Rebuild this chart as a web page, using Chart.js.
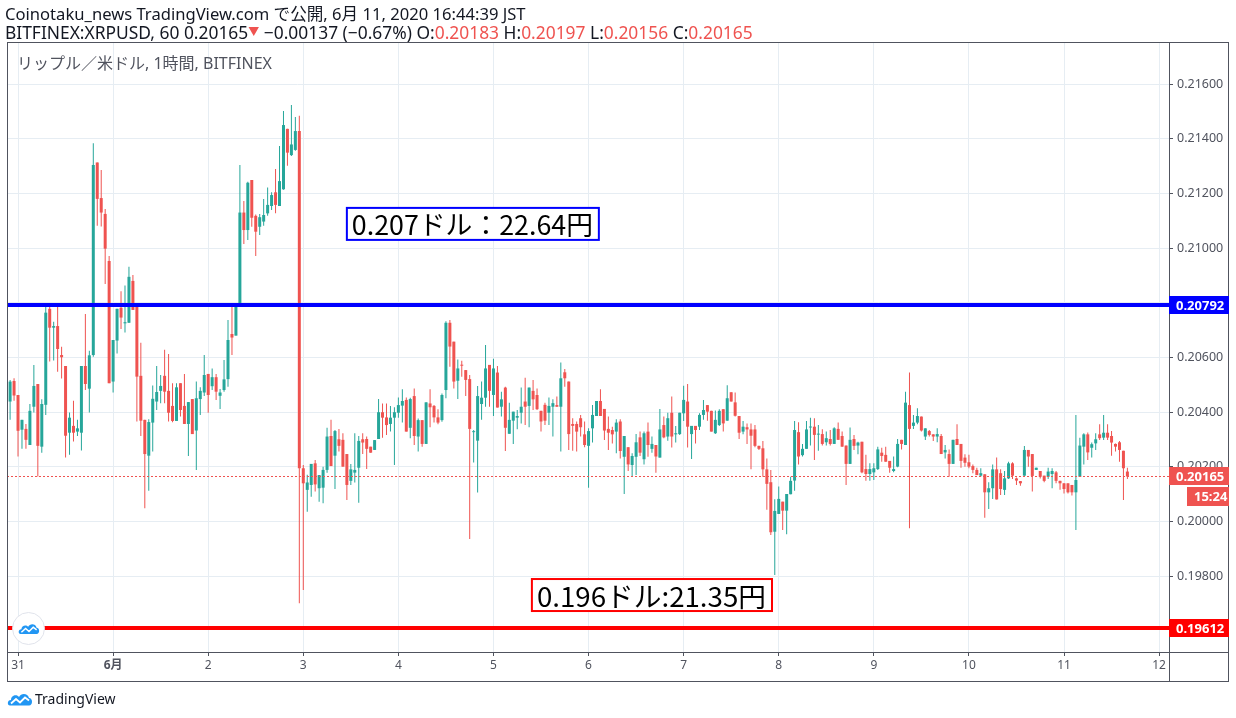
<!DOCTYPE html>
<html>
<head>
<meta charset="utf-8">
<script src="https://cdn.jsdelivr.net/npm/chart.js@4.4.1/dist/chart.umd.min.js"></script>
<style>
  body { margin: 0; background: #fff; font-family: "Noto Sans", "Noto Sans CJK JP", sans-serif; }
  #wrap { position: relative; width: 1236px; height: 718px; overflow: hidden; }
  #c { position: absolute; left: 0; top: 0; }
  .hdr { position: absolute; left: 5px; line-height: 18px; color: #131722; white-space: nowrap; }
  .r { color: #ef5350; }
  .tri { color: #ef5350; font-size: 11px; vertical-align: 3px; }
  #title { position: absolute; left: 17px; top: 53px; font-size: 16px; line-height: 20px; color: #50535e; white-space: nowrap; }
  #badge { position: absolute; left: 12px; top: 612px; width: 31px; height: 31px; border-radius: 50%; background: #fff; border: 1px solid #e0e3eb; display: flex; align-items: center; justify-content: center; }
  #footer { position: absolute; left: 7px; top: 690px; font-size: 14px; line-height: 18px; color: #131722; display: flex; align-items: center; gap: 2px; }
</style>
</head>
<body>
<div id="wrap">
  <canvas id="c" width="1236" height="718"></canvas>
  <div class="hdr" style="top:5px;font-size:16.6px">Coinotaku_news TradingView.com で公開, 6月 11, 2020 16:44:39 JST</div>
  <div class="hdr" style="top:23px;font-size:17.4px">BITFINEX:XRPUSD, 60 0.20165<span class="tri">▼</span> −0.00137 (−0.67%) O:<span class="r">0.20183</span> H:<span class="r">0.20197</span> L:<span class="r">0.20156</span> C:<span class="r">0.20165</span></div>
  <div id="title">リップル／米ドル, 1時間, BITFINEX</div>
  <div id="badge"><svg width="22" height="13" viewBox="0 0 26 14"><path d="M3 13.5C0 13.5 0 8 4 8C4 3 10 2 12 5C14 0.5 21 1 22 6C26 6 26 13.5 22 13.5Z" fill="#2196f3"/><polyline points="4,11.5 9,7 13,10.5 18,5.5 22,8.5" stroke="#fff" stroke-width="1.8" fill="none"/></svg></div>
  <div id="footer"><svg width="26" height="14" viewBox="0 0 26 14"><path d="M3 13.5C0 13.5 0 8 4 8C4 3 10 2 12 5C14 0.5 21 1 22 6C26 6 26 13.5 22 13.5Z" fill="#2196f3"/><polyline points="4,11.5 9,7 13,10.5 18,5.5 22,8.5" stroke="#fff" stroke-width="1.8" fill="none"/></svg><span>TradingView</span></div>
</div>
<script>
(function () {
    'use strict';

    // hourly candles, first one is 30 May 21:00 (hour -3 relative to 31 May 00:00)
    var firstHour = -3;

    var opens = [
        0.20503,0.20439,0.20514,0.20463,0.20336,0.20339,0.20280,0.20420,0.20503,0.20274,0.20427,0.20778,
        0.20709,0.20715,0.20609,0.20569,0.20325,0.20350,0.20329,0.20325,0.20569,0.20486,0.20609,0.21313,
        0.21183,0.21125,0.20953,0.20512,0.20662,0.20782,0.20725,0.20727,0.20880,0.20792,0.20533,0.20372,
        0.20241,0.20362,0.20439,0.20478,0.20533,0.20478,0.20423,0.20368,0.20506,0.20423,0.20357,0.20448,
        0.20333,0.20448,0.20472,0.20540,0.20495,0.20528,0.20460,0.20481,0.20521,0.20686,0.20680,0.20798,
        0.21130,0.21066,0.21249,0.21118,0.21078,0.21097,0.21127,0.21154,0.21204,0.21154,0.21215,0.21436,
        0.21340,0.21359,0.21428,0.20195,0.20116,0.20134,0.20213,0.20122,0.20124,0.20189,0.20313,0.20241,
        0.20301,0.20299,0.20247,0.20149,0.20179,0.20197,0.20301,0.20302,0.20274,0.20262,0.20302,0.20400,
        0.20381,0.20357,0.20380,0.20398,0.20424,0.20445,0.20343,0.20459,0.20311,0.20371,0.20284,0.20432,
        0.20423,0.20381,0.20371,0.20481,0.20727,0.20658,0.20515,0.20573,0.20554,0.20521,0.20327,0.20296,
        0.20430,0.20453,0.20573,0.20463,0.20545,0.20420,0.20490,0.20321,0.20369,0.20380,0.20398,0.20439,
        0.20423,0.20478,0.20463,0.20405,0.20427,0.20398,0.20420,0.20426,0.20420,0.20546,0.20512,0.20357,
        0.20357,0.20378,0.20319,0.20277,0.20341,0.20386,0.20441,0.20412,0.20339,0.20335,0.20329,0.20366,
        0.20237,0.20272,0.20207,0.20237,0.20308,0.20228,0.20329,0.20266,0.20280,0.20234,0.20353,0.20311,
        0.20398,0.20319,0.20320,0.20396,0.20439,0.20320,0.20350,0.20347,0.20390,0.20426,0.20405,0.20323,
        0.20353,0.20411,0.20369,0.20473,0.20436,0.20386,0.20329,0.20345,0.20337,0.20337,0.20277,0.20268,
        0.20191,0.20144,0.19963,0.20028,0.20073,0.20040,0.20100,0.20150,0.20327,0.20243,0.20266,0.20344,
        0.20347,0.20318,0.20320,0.20290,0.20302,0.20284,0.20339,0.20313,0.20278,0.20211,0.20302,0.20278,
        0.20292,0.20192,0.20174,0.20180,0.20192,0.20252,0.20244,0.20222,0.20185,0.20201,0.20299,0.20280,
        0.20426,0.20350,0.20362,0.20384,0.20311,0.20331,0.20319,0.20311,0.20313,0.20253,0.20247,0.20211,
        0.20302,0.20284,0.20234,0.20217,0.20203,0.20189,0.20168,0.20173,0.20107,0.20122,0.20191,0.20177,
        0.20116,0.20158,0.20213,0.20158,0.20148,0.20168,0.20262,0.20247,0.20189,0.20185,0.20168,0.20164,
        0.20174,0.20180,0.20149,0.20140,0.20140,0.20134,0.20107,0.20164,0.20274,0.20319,0.20270,0.20286,
        0.20319,0.20307,0.20325,0.20313,0.20284,0.20290,0.20259,0.20183
    ];
    var highs = [
        0.20506,0.20518,0.20524,0.20463,0.20372,0.20357,0.20430,0.20573,0.20503,0.20447,0.20790,0.20790,
        0.20731,0.20790,0.20639,0.20569,0.20399,0.20442,0.20372,0.20569,0.20759,0.20625,0.21383,0.21313,
        0.21286,0.21143,0.20971,0.20664,0.20778,0.20842,0.20863,0.20932,0.20902,0.20792,0.20654,0.20372,
        0.20374,0.20498,0.20569,0.20536,0.20628,0.20613,0.20506,0.20506,0.20506,0.20540,0.20437,0.20448,
        0.20512,0.20491,0.20609,0.20540,0.20560,0.20540,0.20485,0.20591,0.20737,0.20788,0.20798,0.21304,
        0.21172,0.21243,0.21249,0.21123,0.21125,0.21180,0.21222,0.21204,0.21289,0.21373,0.21501,0.21436,
        0.21523,0.21479,0.21484,0.20207,0.20171,0.20211,0.20225,0.20170,0.20201,0.20343,0.20372,0.20335,
        0.20339,0.20323,0.20247,0.20211,0.20323,0.20313,0.20323,0.20311,0.20274,0.20298,0.20448,0.20432,
        0.20432,0.20423,0.20418,0.20454,0.20484,0.20454,0.20453,0.20487,0.20377,0.20371,0.20436,0.20484,
        0.20426,0.20411,0.20468,0.20733,0.20737,0.20658,0.20593,0.20588,0.20554,0.20536,0.20335,0.20496,
        0.20512,0.20646,0.20573,0.20595,0.20569,0.20475,0.20493,0.20435,0.20402,0.20408,0.20490,0.20526,
        0.20490,0.20518,0.20487,0.20405,0.20435,0.20454,0.20447,0.20457,0.20582,0.20558,0.20512,0.20378,
        0.20366,0.20390,0.20366,0.20341,0.20426,0.20441,0.20484,0.20412,0.20384,0.20347,0.20374,0.20374,
        0.20313,0.20272,0.20250,0.20320,0.20329,0.20329,0.20362,0.20311,0.20280,0.20412,0.20384,0.20398,
        0.20457,0.20350,0.20398,0.20497,0.20503,0.20350,0.20350,0.20396,0.20445,0.20426,0.20405,0.20406,
        0.20411,0.20411,0.20499,0.20473,0.20472,0.20386,0.20368,0.20359,0.20359,0.20353,0.20277,0.20295,
        0.20231,0.20189,0.20082,0.20128,0.20073,0.20101,0.20164,0.20368,0.20363,0.20284,0.20368,0.20380,
        0.20378,0.20353,0.20338,0.20329,0.20335,0.20345,0.20362,0.20329,0.20278,0.20344,0.20317,0.20292,
        0.20292,0.20244,0.20213,0.20213,0.20274,0.20270,0.20274,0.20222,0.20238,0.20302,0.20299,0.20475,
        0.20545,0.20390,0.20414,0.20384,0.20341,0.20335,0.20319,0.20341,0.20320,0.20280,0.20264,0.20299,
        0.20356,0.20284,0.20246,0.20244,0.20209,0.20197,0.20195,0.20173,0.20144,0.20209,0.20234,0.20191,
        0.20185,0.20219,0.20217,0.20161,0.20148,0.20276,0.20262,0.20247,0.20197,0.20185,0.20168,0.20197,
        0.20195,0.20185,0.20149,0.20140,0.20140,0.20134,0.20390,0.20307,0.20323,0.20326,0.20289,0.20323,
        0.20356,0.20390,0.20356,0.20331,0.20286,0.20295,0.20259,0.20197
    ];
    var lows = [
        0.20442,0.20372,0.20442,0.20238,0.20266,0.20266,0.20280,0.20399,0.20165,0.20252,0.20390,0.20585,
        0.20589,0.20548,0.20523,0.20234,0.20244,0.20293,0.20313,0.20260,0.20481,0.20399,0.20603,0.21082,
        0.21079,0.20869,0.20506,0.20472,0.20615,0.20704,0.20691,0.20727,0.20774,0.20366,0.20313,0.20049,
        0.20113,0.20256,0.20408,0.20433,0.20433,0.20366,0.20363,0.20368,0.20384,0.20357,0.20240,0.20320,
        0.20189,0.20390,0.20459,0.20398,0.20481,0.20445,0.20412,0.20475,0.20493,0.20609,0.20680,0.20798,
        0.21015,0.21030,0.21078,0.20971,0.21048,0.21082,0.21118,0.21139,0.21127,0.21154,0.21213,0.21301,
        0.21337,0.21356,0.19701,0.19750,0.20036,0.20091,0.20110,0.20073,0.20067,0.20179,0.20203,0.20119,
        0.20256,0.20201,0.20079,0.20134,0.20143,0.20069,0.20247,0.20192,0.20252,0.20262,0.20302,0.20307,
        0.20317,0.20329,0.20207,0.20380,0.20362,0.20329,0.20305,0.20280,0.20256,0.20274,0.20284,0.20345,
        0.20362,0.20356,0.20365,0.20451,0.20566,0.20487,0.20448,0.20530,0.20459,0.19936,0.20216,0.20106,
        0.20372,0.20420,0.20420,0.20386,0.20417,0.20384,0.20258,0.20321,0.20284,0.20338,0.20359,0.20353,
        0.20345,0.20408,0.20408,0.20329,0.20353,0.20353,0.20311,0.20420,0.20256,0.20493,0.20262,0.20259,
        0.20256,0.20311,0.20272,0.20124,0.20289,0.20386,0.20386,0.20298,0.20262,0.20286,0.20250,0.20231,
        0.20101,0.20185,0.20167,0.20170,0.20240,0.20209,0.20237,0.20252,0.20179,0.20234,0.20305,0.20296,
        0.20271,0.20289,0.20317,0.20368,0.20271,0.20229,0.20286,0.20335,0.20372,0.20369,0.20329,0.20320,
        0.20350,0.20329,0.20369,0.20439,0.20384,0.20302,0.20319,0.20284,0.20191,0.20272,0.20262,0.20164,
        0.20043,0.19951,0.19805,0.20028,0.19969,0.19954,0.20100,0.20113,0.20209,0.20238,0.20266,0.20278,
        0.20225,0.20259,0.20278,0.20278,0.20278,0.20284,0.20299,0.20274,0.20134,0.20211,0.20262,0.20246,
        0.20177,0.20149,0.20149,0.20152,0.20189,0.20219,0.20219,0.20179,0.20180,0.20199,0.20264,0.20280,
        0.19976,0.20339,0.20356,0.20329,0.20298,0.20311,0.20295,0.20290,0.20247,0.20231,0.20164,0.20211,
        0.20280,0.20197,0.20201,0.20195,0.20177,0.20170,0.20164,0.20014,0.20046,0.20083,0.20081,0.20097,
        0.20097,0.20156,0.20156,0.20134,0.20131,0.20168,0.20201,0.20110,0.20189,0.20158,0.20144,0.20156,
        0.20122,0.20140,0.20116,0.20103,0.20103,0.20095,0.19969,0.20164,0.20209,0.20225,0.20234,0.20262,
        0.20298,0.20298,0.20298,0.20241,0.20256,0.20219,0.20079,0.20156
    ];
    var closes = [
        0.20442,0.20512,0.20461,0.20332,0.20372,0.20299,0.20405,0.20496,0.20277,0.20430,0.20764,0.20709,
        0.20715,0.20631,0.20601,0.20314,0.20380,0.20325,0.20341,0.20569,0.20503,0.20608,0.21304,0.21180,
        0.21130,0.20998,0.20506,0.20664,0.20778,0.20746,0.20729,0.20895,0.20774,0.20530,0.20369,0.20247,
        0.20364,0.20449,0.20474,0.20496,0.20475,0.20398,0.20368,0.20491,0.20408,0.20357,0.20437,0.20320,
        0.20451,0.20478,0.20536,0.20463,0.20528,0.20475,0.20472,0.20520,0.20664,0.20673,0.20792,0.21130,
        0.21066,0.21239,0.21111,0.21060,0.21113,0.21121,0.21158,0.21194,0.21158,0.21245,0.21450,0.21349,
        0.21379,0.21428,0.20195,0.20140,0.20143,0.20211,0.20136,0.20170,0.20189,0.20311,0.20203,0.20331,
        0.20277,0.20201,0.20134,0.20191,0.20189,0.20295,0.20289,0.20266,0.20252,0.20298,0.20400,0.20380,
        0.20353,0.20380,0.20400,0.20426,0.20441,0.20329,0.20448,0.20313,0.20371,0.20284,0.20436,0.20418,
        0.20381,0.20362,0.20463,0.20727,0.20640,0.20512,0.20560,0.20570,0.20518,0.20339,0.20329,0.20459,
        0.20453,0.20560,0.20478,0.20560,0.20417,0.20447,0.20343,0.20372,0.20402,0.20386,0.20420,0.20420,
        0.20490,0.20447,0.20411,0.20366,0.20369,0.20423,0.20433,0.20420,0.20524,0.20524,0.20320,0.20350,
        0.20329,0.20345,0.20280,0.20331,0.20390,0.20441,0.20386,0.20333,0.20325,0.20319,0.20362,0.20258,
        0.20313,0.20209,0.20240,0.20290,0.20252,0.20323,0.20280,0.20284,0.20238,0.20337,0.20308,0.20378,
        0.20311,0.20323,0.20398,0.20445,0.20347,0.20350,0.20335,0.20390,0.20408,0.20402,0.20329,0.20372,
        0.20405,0.20359,0.20451,0.20439,0.20387,0.20325,0.20347,0.20337,0.20314,0.20277,0.20266,0.20191,
        0.20138,0.19961,0.20039,0.20083,0.20040,0.20101,0.20149,0.20335,0.20238,0.20266,0.20337,0.20347,
        0.20317,0.20320,0.20284,0.20305,0.20284,0.20341,0.20299,0.20274,0.20211,0.20299,0.20277,0.20289,
        0.20180,0.20174,0.20192,0.20195,0.20264,0.20240,0.20219,0.20197,0.20192,0.20284,0.20284,0.20435,
        0.20339,0.20362,0.20386,0.20333,0.20341,0.20317,0.20311,0.20320,0.20247,0.20262,0.20211,0.20299,
        0.20280,0.20222,0.20215,0.20201,0.20189,0.20170,0.20177,0.20107,0.20122,0.20191,0.20081,0.20119,
        0.20158,0.20213,0.20168,0.20150,0.20140,0.20262,0.20238,0.20167,0.20197,0.20164,0.20149,0.20183,
        0.20185,0.20149,0.20140,0.20119,0.20107,0.20107,0.20152,0.20278,0.20319,0.20253,0.20283,0.20301,
        0.20305,0.20325,0.20307,0.20289,0.20274,0.20262,0.20195,0.20165
    ];

    // time axis: one tick per day, hours counted from 31 May 00:00
    var dayTicks = [0, 24, 48, 72, 96, 120, 144, 168, 192, 216, 240, 264, 288];
    var dayLabels = ['31', '6月', '2', '3', '4', '5', '6', '7', '8', '9', '10', '11', '12'];
    var priceTicks = [0.198, 0.200, 0.202, 0.204, 0.206, 0.208, 0.210, 0.212, 0.214, 0.216];

    var lastPrice = 0.20165;
    var countdown = '15:24';
    var levelValues = [0.20792, 0.19612];
    var levelColors = ['#0000ff', '#ff0000'];
    var noteTexts = ['0.207ドル：22.64円', '0.196ドル:21.35円'];

    var GREEN = '#26a69a', RED = '#ef5350', GRID = '#e6edf3', AXIS = '#50535e';

    var candleColors = opens.map(function (o, i) { return closes[i] >= o ? GREEN : RED; });
    var bodyData = opens.map(function (o, i) { return { x: firstHour + i, y: [o, closes[i]] }; });
    var wickData = opens.map(function (o, i) { return { x: firstHour + i, y: [lows[i], highs[i]] }; });

    // note boxes placed in data space (hour, price)
    var notes = [
        { text: noteTexts[0], x0: 83.0, x1: 146.6, y0: 0.21147, y1: 0.21030, color: '#0000ff' },
        { text: noteTexts[1], x0: 129.7, x1: 190.3, y0: 0.19790, y1: 0.19673, color: '#ff0000' }
    ];

    function tag(ctx, x, yc, w, h, bg, text) {
        ctx.fillStyle = bg;
        ctx.fillRect(x, Math.round(yc - h / 2), w, h);
        ctx.fillStyle = '#fff';
        ctx.font = 'bold 13px "Noto Sans", sans-serif';
        ctx.textBaseline = 'middle';
        ctx.textAlign = 'left';
        ctx.fillText(text, x + 7, Math.round(yc) + 1);
    }

    var overlay = {
        id: 'overlay',
        afterDatasetsDraw: function (chart) {
            var ctx = chart.ctx, a = chart.chartArea, y = chart.scales.y;
            ctx.save();
            ctx.beginPath();
            ctx.rect(a.left, a.top, a.right - a.left, a.bottom - a.top);
            ctx.clip();
            var yl = Math.round(y.getPixelForValue(lastPrice)) + 0.5;
            ctx.strokeStyle = RED;
            ctx.lineWidth = 1;
            ctx.setLineDash([2, 2]);
            ctx.beginPath(); ctx.moveTo(a.left, yl); ctx.lineTo(a.right, yl); ctx.stroke();
            ctx.setLineDash([]);
            levelValues.forEach(function (v, i) {
                var yy = Math.round(y.getPixelForValue(v));
                ctx.strokeStyle = levelColors[i];
                ctx.lineWidth = 4;
                ctx.beginPath(); ctx.moveTo(a.left, yy); ctx.lineTo(a.right, yy); ctx.stroke();
            });
            ctx.restore();
        },
        afterDraw: function (chart) {
            var ctx = chart.ctx, a = chart.chartArea, x = chart.scales.x, y = chart.scales.y;
            ctx.save();
            // frame
            ctx.strokeStyle = AXIS;
            ctx.lineWidth = 1;
            ctx.strokeRect(7.5, 42.5, 1221, 639);
            ctx.beginPath();
            ctx.moveTo(a.right + 0.5, 42); ctx.lineTo(a.right + 0.5, 681);
            ctx.moveTo(7, a.bottom + 0.5); ctx.lineTo(1228, a.bottom + 0.5);
            ctx.stroke();
            // price tags on the right axis
            levelValues.forEach(function (v, i) {
                tag(ctx, a.right, y.getPixelForValue(v), 60, 18, levelColors[i], v.toFixed(5));
            });
            var yp = y.getPixelForValue(lastPrice);
            tag(ctx, a.right, yp, 60, 18, RED, lastPrice.toFixed(5));
            tag(ctx, a.right + 18, yp + 20, 42, 19, RED, countdown);
            // note boxes
            notes.forEach(function (n) {
                var l = x.getPixelForValue(n.x0), r = x.getPixelForValue(n.x1);
                var t = y.getPixelForValue(n.y0), b = y.getPixelForValue(n.y1);
                ctx.fillStyle = '#fff';
                ctx.fillRect(l, t, r - l, b - t);
                ctx.strokeStyle = n.color;
                ctx.lineWidth = 2;
                ctx.strokeRect(l, t, r - l, b - t);
                var size = 24;
                ctx.font = size + 'px "Noto Sans CJK JP", "Noto Sans", sans-serif';
                var w = ctx.measureText(n.text).width;
                size = size * (r - l - 11) / w;
                ctx.font = size.toFixed(1) + 'px "Noto Sans CJK JP", "Noto Sans", sans-serif';
                ctx.fillStyle = '#000';
                ctx.textAlign = 'left';
                ctx.textBaseline = 'middle';
                ctx.fillText(n.text, l + 5, (t + b) / 2 + 1);
            });
            ctx.restore();
        }
    };

    var ctx = document.getElementById('c');
    new Chart(ctx, {
        type: 'bar',
        data: {
            datasets: [
                { data: bodyData, backgroundColor: candleColors, barThickness: 3, minBarLength: 1, grouped: false, inflateAmount: 0, borderWidth: 0 },
                { data: wickData, backgroundColor: candleColors, barThickness: 1, grouped: false, inflateAmount: 0, borderWidth: 0 }
            ]
        },
        plugins: [overlay],
        options: {
            responsive: false,
            animation: false,
            devicePixelRatio: 1,
            layout: { padding: { left: 7, right: 8, top: 42, bottom: 37 } },
            plugins: { legend: { display: false }, tooltip: { enabled: false } },
            scales: {
                x: {
                    type: 'linear', min: -2.78, max: 290.5, offset: false,
                    afterBuildTicks: function (s) { s.ticks = dayTicks.map(function (v) { return { value: v }; }); },
                    afterFit: function (s) { s.height = 29; },
                    ticks: {
                        autoSkip: false, maxRotation: 0, padding: 2, color: AXIS,
                        font: function (c) { return { size: 12, family: '"Noto Sans", "Noto Sans CJK JP", sans-serif', weight: c.index === 1 ? 'bold' : 'normal' }; },
                        callback: function (v, i) { return dayLabels[i]; }
                    },
                    grid: { color: GRID, tickLength: 4, tickColor: AXIS, offset: false },
                    border: { color: AXIS }
                },
                y: {
                    position: 'right', min: 0.195232, max: 0.217536,
                    afterBuildTicks: function (s) { s.ticks = priceTicks.map(function (v) { return { value: v }; }); },
                    afterFit: function (s) { s.width = 59; },
                    ticks: {
                        autoSkip: false, padding: 4, color: AXIS,
                        font: { size: 12.5, family: '"Noto Sans", sans-serif' },
                        callback: function (v) { return v.toFixed(5); }
                    },
                    grid: { color: GRID, tickLength: 4, tickColor: AXIS },
                    border: { color: AXIS }
                }
            }
        }
    });
})();
</script>
</body>
</html>
